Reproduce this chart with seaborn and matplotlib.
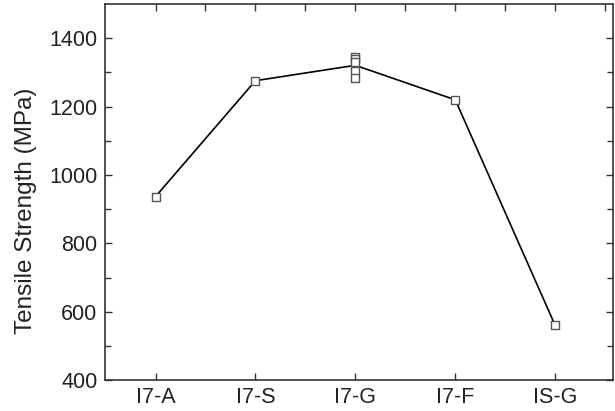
import matplotlib
matplotlib.use("Agg")

import pandas as pd
import matplotlib.pyplot as plt
import seaborn as sns

# Data
samples = ["I7-A", "I7-S", "I7-G", "I7-G", "I7-G", "I7-G", "I7-G", "I7-F", "IS-G"]
strength = [937, 1276, 1345, 1340, 1330, 1305, 1285, 1220, 560]
order = ["I7-A", "I7-S", "I7-G", "I7-F", "IS-G"]

df = pd.DataFrame({"Sample": samples, "Strength": strength})

sns.set_style("ticks")
plt.rcParams["font.family"] = ["Liberation Sans", "DejaVu Sans"]

fig, ax = plt.subplots(figsize=(6.15, 4.11), dpi=100)

# mean line through each sample, plus every measurement as an open square
sns.lineplot(data=df, x="Sample", y="Strength", estimator="mean", errorbar=None,
             sort=False, color="black", linewidth=1.2, ax=ax, zorder=2)
sns.scatterplot(data=df, x="Sample", y="Strength", marker="s", s=30,
                facecolor="white", edgecolor="#555555", linewidth=1.0,
                ax=ax, zorder=3)

ax.set_xlim(-0.51, 4.58)
ax.set_ylim(400, 1500)
ax.set_xticks(range(len(order)))
ax.set_xticklabels(order)
ax.set_yticks([400, 600, 800, 1000, 1200, 1400])
ax.set_yticks(range(500, 1500, 200), minor=True)
ax.set_xlabel("")
ax.set_ylabel("Tensile Strength (MPa)", fontsize=17.5, color="#222222")
ax.yaxis.set_label_coords(-0.133, 0.45)

for side in ["left", "right", "top", "bottom"]:
    ax.spines[side].set_visible(True)
    ax.spines[side].set_color("#333333")
    ax.spines[side].set_linewidth(1.2)

ax.tick_params(axis="both", which="major", direction="in", length=5,
               width=1.0, color="#333333", labelsize=15.5, labelcolor="#222222", pad=5)
ax.tick_params(axis="both", which="minor", direction="in", length=4,
               width=1.0, color="#333333")
ax.tick_params(axis="y", which="both", right=True)

# top axis ticks every half category
top = ax.secondary_xaxis("top")
top.set_xticks([i * 0.5 for i in range(0, 10)])
top.set_xticklabels([])
top.tick_params(direction="in", length=5, width=1.0, color="#333333")
top.spines["top"].set_visible(False)

fig.subplots_adjust(left=0.17, right=0.997, top=0.99, bottom=0.075)
fig.savefig("out.png", dpi=100)
